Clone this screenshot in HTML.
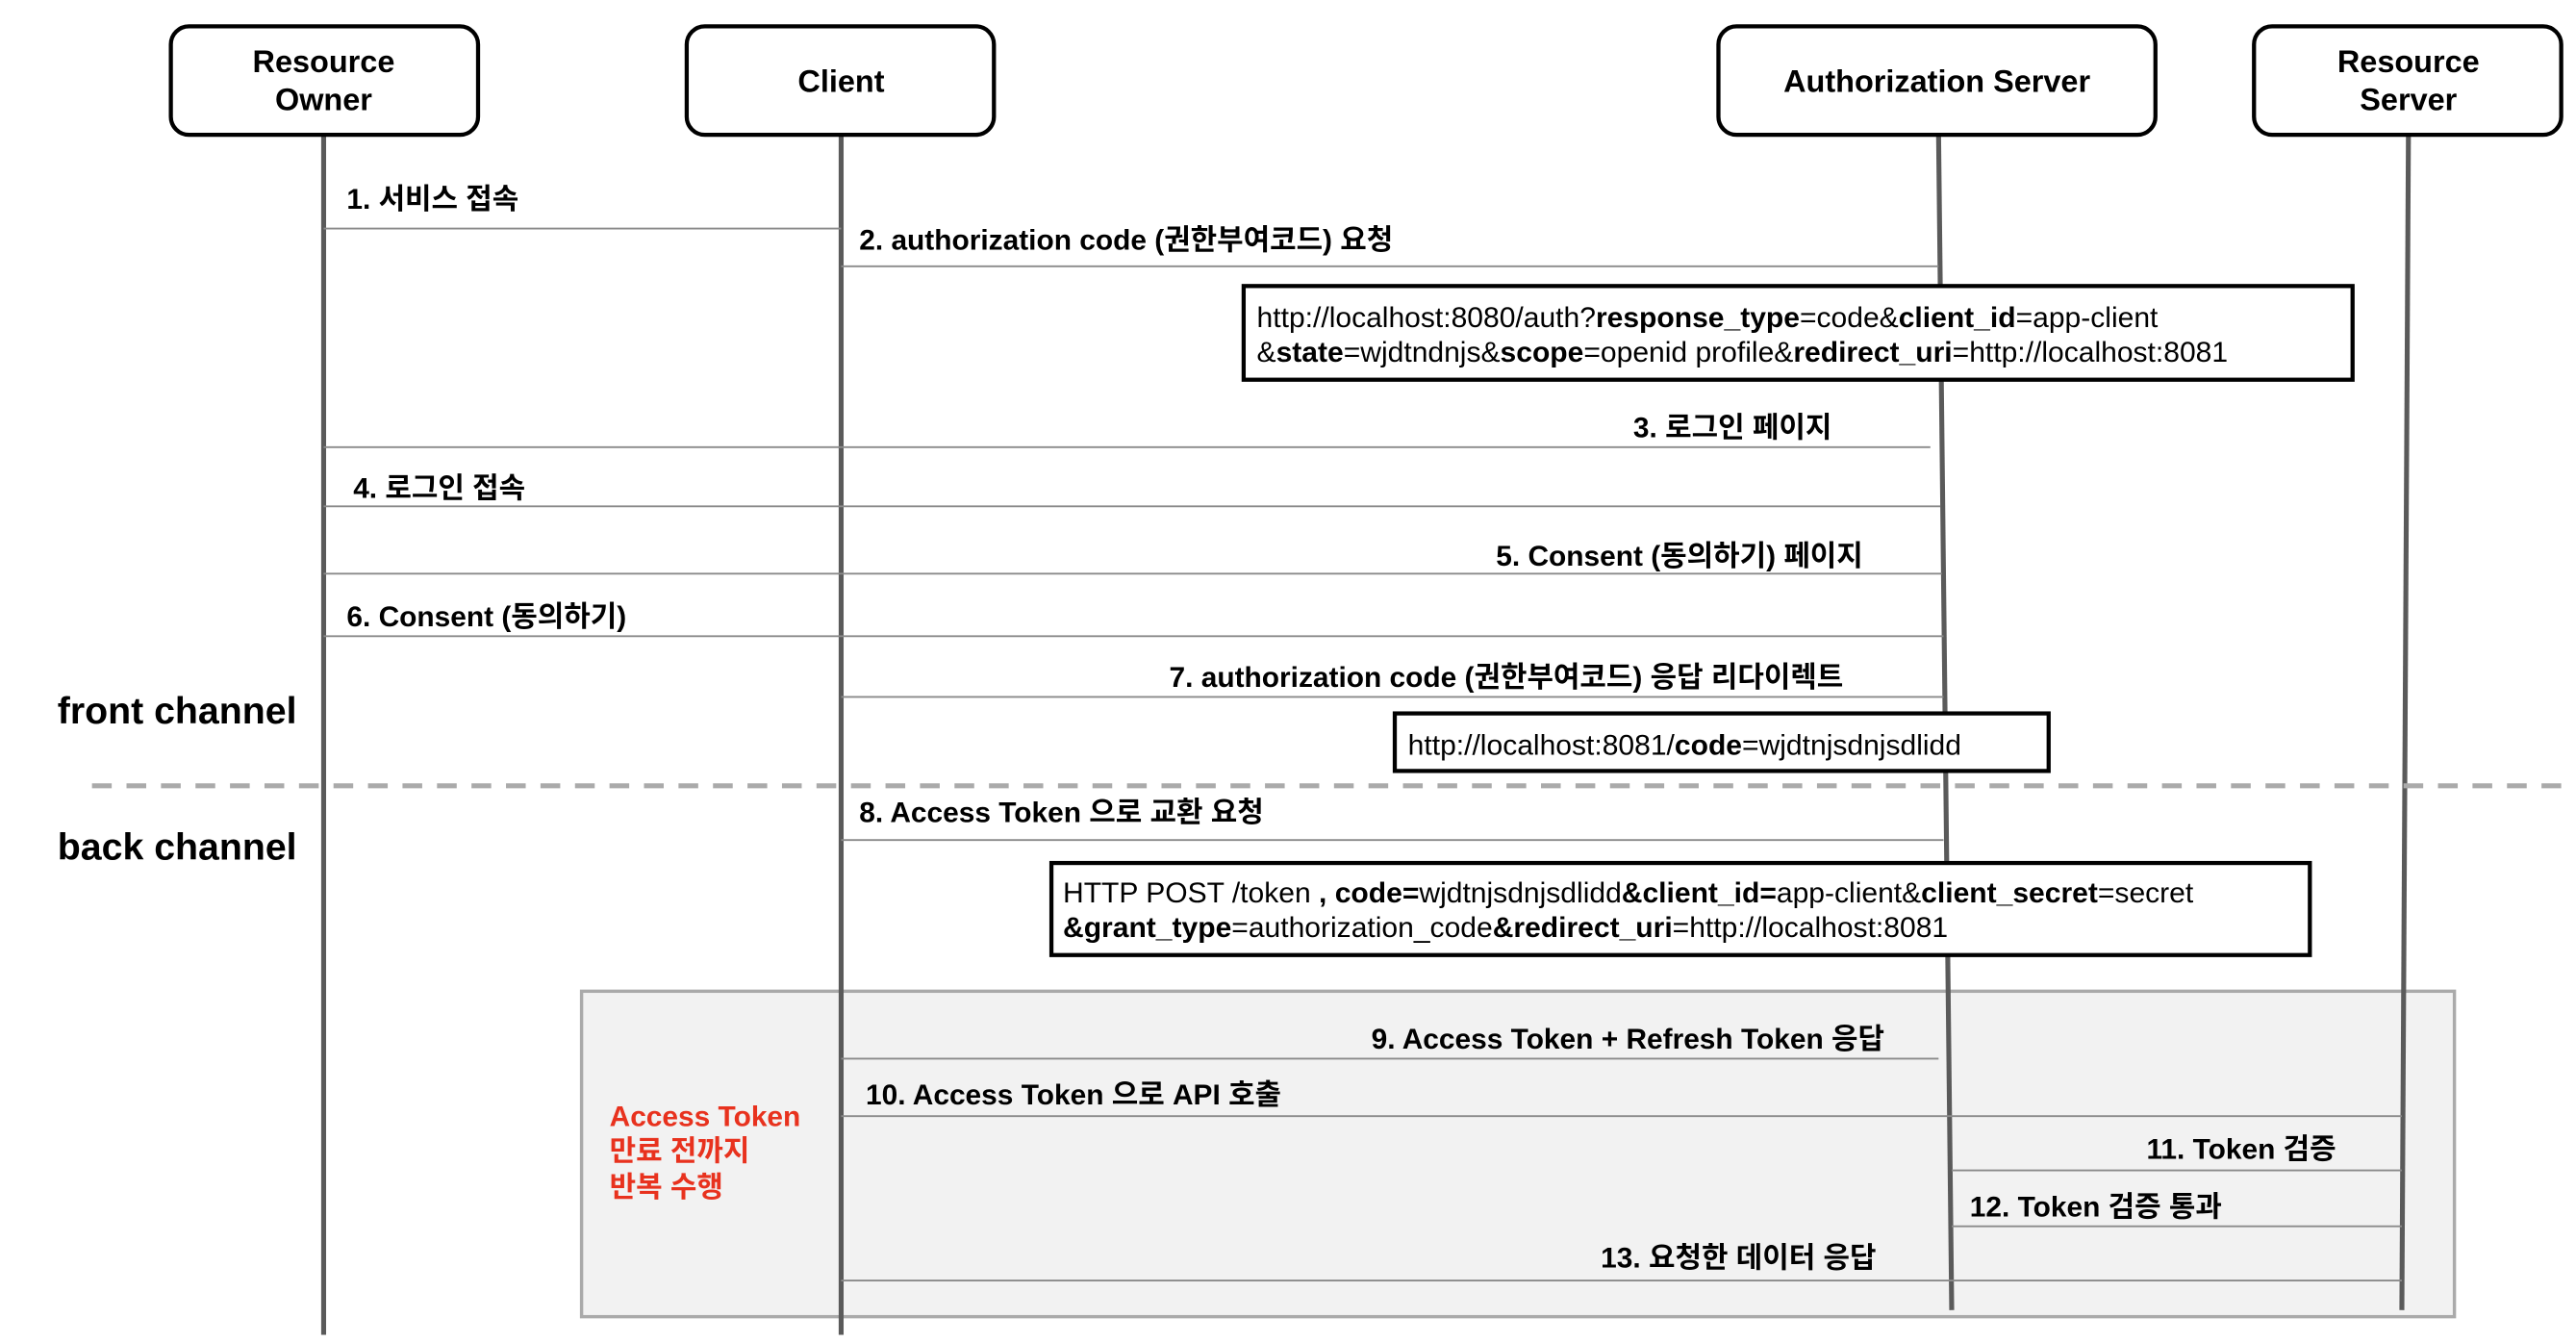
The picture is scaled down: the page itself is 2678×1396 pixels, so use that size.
<!DOCTYPE html>
<html><head><meta charset="utf-8"><style>
html,body{margin:0;padding:0;background:#fff;}
svg{display:block;}
text{font-family:"Liberation Sans","Noto Sans CJK KR",sans-serif;}
.lb{font-size:17.5px;font-weight:bold;fill:#000;}
.bx{font-size:19px;font-weight:bold;fill:#000;}
.tx{font-size:17.6px;fill:#000;}
.ar{stroke:#8a8a8a;stroke-width:1.1;fill:none;}
.ll{stroke:#5a5a5a;stroke-width:3;}
</style></head><body>
<svg width="2678" height="1396" viewBox="0 0 1568 817" preserveAspectRatio="none" xmlns="http://www.w3.org/2000/svg">
<rect x="354" y="603" width="1140" height="198" fill="#f2f2f2" stroke="#aaa" stroke-width="2"/>
<line class="ll" x1="197" y1="82" x2="197" y2="812"/>
<line class="ll" x1="512" y1="82" x2="512" y2="812"/>
<line class="ll" x1="1180" y1="82" x2="1188" y2="797"/>
<line class="ll" x1="1466" y1="82" x2="1462" y2="797"/>
<g fill="#fff" stroke="#000" stroke-width="2.5">
<rect x="104" y="16" width="187" height="66" rx="11"/>
<rect x="418" y="16" width="187" height="66" rx="11"/>
<rect x="1046" y="16" width="266" height="66" rx="11"/>
<rect x="1372" y="16" width="187" height="66" rx="11"/>
</g>
<text class="bx" x="197" y="44" text-anchor="middle">Resource</text>
<text class="bx" x="197" y="67" text-anchor="middle">Owner</text>
<text class="bx" x="512" y="56" text-anchor="middle">Client</text>
<text class="bx" x="1179" y="56" text-anchor="middle">Authorization Server</text>
<text class="bx" x="1466" y="44" text-anchor="middle">Resource</text>
<text class="bx" x="1466" y="67" text-anchor="middle">Server</text>
<line class="ar" x1="197" y1="139" x2="512" y2="139"/>
<line class="ar" x1="512" y1="162" x2="1180" y2="162"/>
<line class="ar" x1="197" y1="272" x2="1175" y2="272"/>
<line class="ar" x1="197" y1="308" x2="1181" y2="308"/>
<line class="ar" x1="197" y1="349" x2="1182" y2="349"/>
<line class="ar" x1="197" y1="387" x2="1183" y2="387"/>
<line class="ar" x1="512" y1="424" x2="1183" y2="424"/>
<line class="ar" x1="512" y1="511" x2="1183" y2="511"/>
<line class="ar" x1="512" y1="644" x2="1180" y2="644"/>
<line class="ar" x1="512" y1="679" x2="1462" y2="679"/>
<line class="ar" x1="1188" y1="712" x2="1462" y2="712"/>
<line class="ar" x1="1188" y1="746" x2="1462" y2="746"/>
<line class="ar" x1="512" y1="779" x2="1462" y2="779"/>
<text class="lb" x="211" y="127">1. 서비스 접속</text>
<text class="lb" x="523" y="152">2. authorization code (권한부여코드) 요청</text>
<text class="lb" x="1115" y="266" text-anchor="end">3. 로그인 페이지</text>
<text class="lb" x="215" y="303">4. 로그인 접속</text>
<text class="lb" x="1134" y="344" text-anchor="end">5. Consent (동의하기) 페이지</text>
<text class="lb" x="211" y="381">6. Consent (동의하기)</text>
<text class="lb" x="1122" y="418" text-anchor="end">7. authorization code (권한부여코드) 응답 리다이렉트</text>
<text class="lb" x="523" y="500">8. Access Token 으로 교환 요청</text>
<text class="lb" x="1147" y="638" text-anchor="end">9. Access Token + Refresh Token 응답</text>
<text class="lb" x="527" y="672">10. Access Token 으로 API 호출</text>
<text class="lb" x="1422" y="705" text-anchor="end">11. Token 검증</text>
<text class="lb" x="1199" y="740">12. Token 검증 통과</text>
<text class="lb" x="1142" y="771" text-anchor="end">13. 요청한 데이터 응답</text>
<line x1="56" y1="478" x2="1568" y2="478" stroke="#aaa" stroke-width="3" stroke-dasharray="12,9"/>
<text x="35" y="440" style="font-size:23px;font-weight:bold">front channel</text>
<text x="35" y="523" style="font-size:23px;font-weight:bold">back channel</text>
<g fill="#fff" stroke="#000" stroke-width="2.5">
<rect x="757" y="174" width="675" height="57"/>
<rect x="849" y="434" width="398" height="35"/>
<rect x="640" y="525" width="766" height="56"/>
</g>
<text class="tx" x="765" y="199">http://localhost:8080/auth?<tspan font-weight="bold">response_type</tspan>=code&amp;<tspan font-weight="bold">client_id</tspan>=app-client</text>
<text class="tx" x="765" y="220">&amp;<tspan font-weight="bold">state</tspan>=wjdtndnjs&amp;<tspan font-weight="bold">scope</tspan>=openid profile&amp;<tspan font-weight="bold">redirect_uri</tspan>=http://localhost:8081</text>
<text class="tx" x="857" y="459">http://localhost:8081/<tspan font-weight="bold">code</tspan>=wjdtnjsdnjsdlidd</text>
<text class="tx" x="647" y="549">HTTP POST /token <tspan font-weight="bold">, code=</tspan>wjdtnjsdnjsdlidd<tspan font-weight="bold">&amp;client_id=</tspan>app-client&amp;<tspan font-weight="bold">client_secret</tspan>=secret</text>
<text class="tx" x="647" y="570"><tspan font-weight="bold">&amp;grant_type</tspan>=authorization_code<tspan font-weight="bold">&amp;redirect_uri</tspan>=http://localhost:8081</text>
<g style="font-size:17.5px;font-weight:bold;fill:#e8321e">
<text x="371" y="685">Access Token</text>
<text x="371" y="706">만료 전까지</text>
<text x="371" y="728">반복 수행</text>
</g>
</svg>
</body></html>
